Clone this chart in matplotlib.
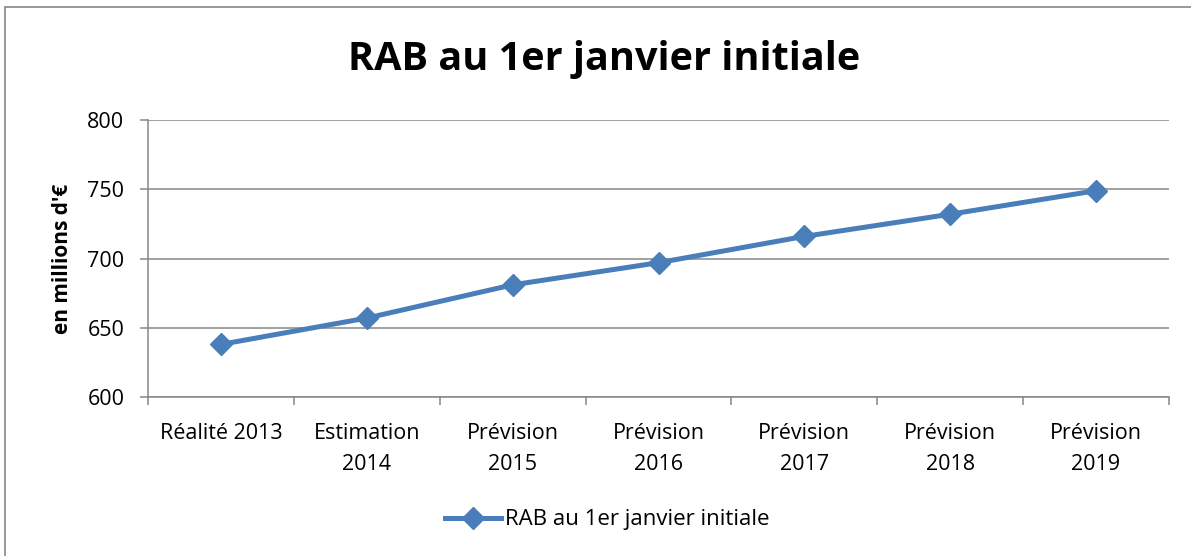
import numpy as np
import matplotlib
matplotlib.use('Agg')
import matplotlib.pyplot as plt
from matplotlib.patches import Rectangle

categories = ['Réalité 2013', 'Estimation\n2014', 'Prévision\n2015', 'Prévision\n2016',
              'Prévision\n2017', 'Prévision\n2018', 'Prévision\n2019']
rab_values = [638, 657, 681, 697, 716, 732, 749]
series_name = 'RAB au 1er janvier initiale'
y_ticks = [600, 650, 700, 750, 800]

plt.rcParams['font.family'] = ['Open Sans', 'DejaVu Sans']

BLUE = '#4A7EBB'
GREY = '#868686'

fig = plt.figure(figsize=(11.91, 5.56), dpi=100)
ax = fig.add_axes([0.1243, 0.286, 0.9815 - 0.1243, 0.784 - 0.286])

# outer chart border
fig.patches.append(Rectangle((0.004, -0.01), 1.2, 0.997, transform=fig.transFigure,
                             fill=False, edgecolor=GREY, linewidth=1.2))

x = np.arange(len(categories))
ax.plot(x, rab_values, color=BLUE, linewidth=3.6, marker='D', markersize=11.5,
        markerfacecolor=BLUE, markeredgecolor=BLUE, label=series_name)

ax.set_xlim(-0.5, len(categories) - 0.5)
ax.set_ylim(600, 800)
ax.set_yticks(y_ticks)
ax.yaxis.grid(True, color=GREY, linewidth=1.1)
ax.set_axisbelow(True)

# category ticks at boundaries, labels centred
ax.set_xticks(np.arange(len(categories) + 1) - 0.5)
ax.set_xticklabels([])
ax.set_xticks(x, minor=True)
ax.set_xticklabels(categories, minor=True, fontsize=15.5, linespacing=1.6)
ax.tick_params(axis='x', which='minor', length=0, pad=19)
ax.tick_params(axis='x', which='major', length=6, color=GREY, width=1.1)
ax.tick_params(axis='y', length=6, color=GREY, width=1.1, labelsize=15.5, pad=11)

for side in ['top', 'right']:
    ax.spines[side].set_visible(False)
for side in ['left', 'bottom']:
    ax.spines[side].set_color(GREY)
    ax.spines[side].set_linewidth(1.1)

ax.set_ylabel("en millions d'€", fontsize=15, fontweight='bold', labelpad=10)

fig.text(0.507, 0.893, 'RAB au 1er janvier initiale', ha='center', va='center',
         fontsize=28.5, fontweight='bold')

fig.legend(loc='center', bbox_to_anchor=(0.51, 0.065), frameon=False, fontsize=16,
           handlelength=2.5, handletextpad=0.2, borderaxespad=0)

fig.savefig('out.png', dpi=100)
